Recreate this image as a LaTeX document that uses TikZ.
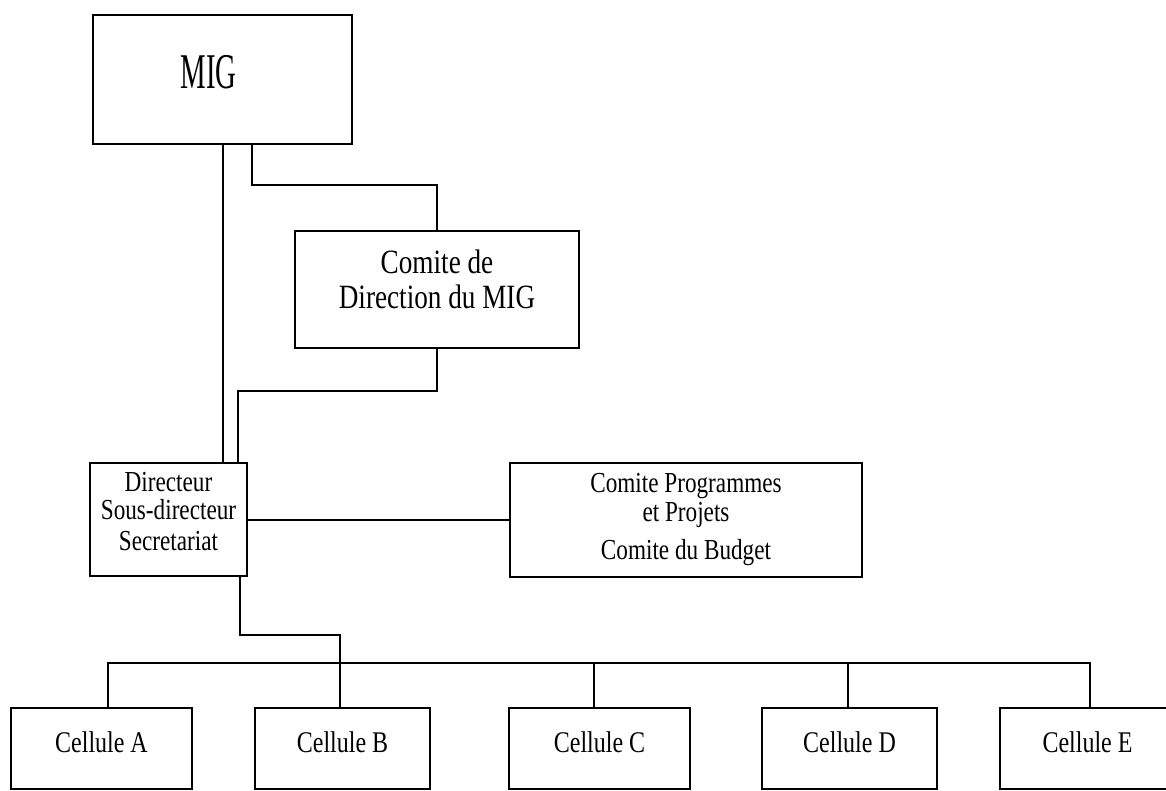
\documentclass[tikz,border=0pt]{standalone}
\usepackage{fontspec}
\usepackage{graphicx}
\setmainfont[FakeStretch=0.8]{Liberation Serif}
\begin{document}
\begin{tikzpicture}[x=1pt,y=-1pt,
  box/.style={draw, line width=2pt, inner sep=0pt},
  conn/.style={line width=2pt},
  txt/.style={align=center, inner sep=0pt},
  celltxt/.style={txt, font=\fontsize{30}{30}\selectfont, yshift=6pt},
]
\useasboundingbox (0,0) rectangle (1166,791);
\clip (0,0) rectangle (1166,791);
\fill[white] (0,0) rectangle (1166,791);

% helper coordinates
\coordinate (xa) at (223,0);
\coordinate (xb) at (252,0);
\coordinate (xc) at (238,0);
\coordinate (xd) at (240,0);
\coordinate (yk) at (0,185);
\coordinate (ym) at (0,391);
\coordinate (yn) at (0,635);
\coordinate (ybus) at (0,663);
\coordinate (xA) at (108,0);
\coordinate (xB) at (340,0);
\coordinate (xC) at (594,0);
\coordinate (xD) at (848,0);
\coordinate (xE) at (1090,0);

% boxes
\node[box, minimum width=259pt, minimum height=129pt,
  label={[txt, font=\fontsize{50}{50}\selectfont, yshift=7pt, xshift=-14pt]center:{\scalebox{0.72}[1]{MIG}}}] (mig) at (222.5,79.5) {};

\node[box, minimum width=284pt, minimum height=117pt,
  label={[txt, font=\fontsize{34}{35}\selectfont, yshift=10pt]center:{Comite de\\Direction du MIG}}] (cdd) at (437,289.5) {};

\node[box, minimum width=157pt, minimum height=113pt,
  label={[txt, font=\fontsize{29}{28}\selectfont, yshift=8pt]center:{Directeur\\Sous-directeur\\[3pt]Secretariat}}] (dir) at (168.5,519.5) {};

\node[box, minimum width=352pt, minimum height=114pt,
  label={[txt, font=\fontsize{29}{29}\selectfont]center:{Comite Programmes\\et Projets\\[9pt]Comite du Budget}}] (cpb) at (686,520) {};

\node[box, minimum width=181pt, minimum height=81pt, label={[celltxt]center:{Cellule A}}] (ca) at (101.5,748.5) {};
\node[box, minimum width=175pt, minimum height=81pt, label={[celltxt]center:{Cellule B}}] (cb) at (342.5,748.5) {};
\node[box, minimum width=181pt, minimum height=81pt, label={[celltxt]center:{Cellule C}}] (cc) at (599.5,748.5) {};
\node[box, minimum width=175pt, minimum height=81pt, label={[celltxt]center:{Cellule D}}] (cd) at (849.5,748.5) {};
\node[box, minimum width=175pt, minimum height=81pt, label={[celltxt]center:{Cellule E}}] (ce) at (1087.5,748.5) {};

% connectors
\draw[conn] (mig.south -| xa) -- (dir.north -| xa);
\draw[conn] (mig.south -| xb) -- (xb |- yk) -| (cdd.north);
\draw[conn] (cdd.south) -- (cdd.south |- ym) -| (dir.north -| xc);
\draw[conn] (dir.east) -- (cpb.west |- dir.east);
\draw[conn] (dir.south -| xd) -- (xd |- yn) -| (cb.north -| xB);
\draw[conn] (ca.north -| xA) -- (xA |- ybus) -- (xE |- ybus) -- (ce.north -| xE);
\draw[conn] (xC |- ybus) -- (cc.north -| xC);
\draw[conn] (xD |- ybus) -- (cd.north -| xD);
\end{tikzpicture}
\end{document}
